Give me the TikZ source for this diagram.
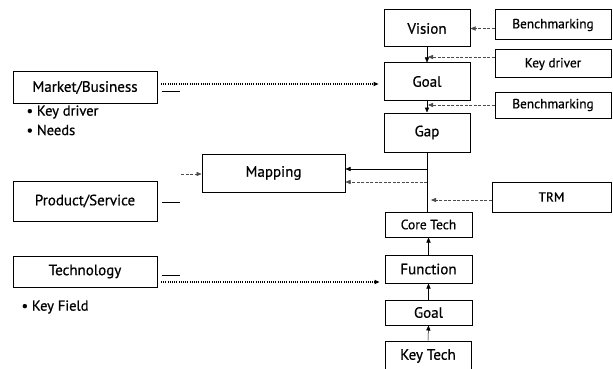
\documentclass[tikz,border=0pt]{standalone}
\usepackage{fontspec}
\setmainfont{PT Sans}[FakeBold=0.6]
\usetikzlibrary{arrows.meta}
\begin{document}
\begin{tikzpicture}[x=1pt,y=-1pt,
  frame/.style 2 args={draw,line width=1pt,minimum width=#1,minimum height=#2,inner sep=0pt},
  bigtxt/.style={font=\fontsize{15}{15}\selectfont},
  midtxt/.style={font=\fontsize{13.5}{13.5}\selectfont},
  smalltxt/.style={font=\fontsize{13.3}{13.3}\selectfont},
  bullettxt/.style={font=\fontsize{14.5}{14.5}\selectfont},
  tip/.style={-{Triangle[length=5pt,width=4.2pt]}},
  plain/.style={line width=0.5pt,tip},
  thindash/.style={line width=0.5pt,gray!60!black,dash pattern=on 3pt off 1.5pt,tip},
  heavydot/.style={line width=1.7pt,dash pattern=on 1pt off 1.2pt,tip,shorten >=5pt},
  stub/.style={line width=0.6pt}
]
\useasboundingbox (0,0) rectangle (613,369);

% roadmap column
\node[frame={86}{37},bigtxt] (vision) at (427,28.5) {Vision};
\node[frame={86}{37},bigtxt] (goalA) at (427,81.5) {Goal};
\node[frame={86}{39},bigtxt] (gap) at (427,132.5) {Gap};
\node[frame={87}{25},midtxt] (core) at (428.5,224.5) {Core Tech};
\node[frame={87}{28},bigtxt] (func) at (428.5,269) {Function};
\node[frame={87}{25},bigtxt] (goalB) at (428.5,312.5) {Goal};
\node[frame={86}{30},bigtxt] (keytech) at (428,356) {Key Tech};

% inputs on the right
\node[frame={116}{30},smalltxt] (benchA) at (553,25) {Benchmarking};
\node[frame={116}{28},smalltxt] (keydrv) at (553,64) {Key driver};
\node[frame={116}{26},smalltxt] (benchB) at (553,105) {Benchmarking};
\node[frame={119}{30},smalltxt] (trm) at (551.5,197) {TRM};

% mapping
\node[frame={143}{38},bigtxt] (mapping) at (273.5,173) {Mapping};

% perspectives on the left
\node[frame={144}{31},bigtxt] (market) at (85,87.5) {Market/Business};
\node[frame={144}{40},bigtxt] (product) at (85,201) {Product/Service};
\node[frame={144}{31},bigtxt] (tech) at (85,271.5) {Technology};
\node[bullettxt,anchor=west] (kd) at (23,112) {• Key driver};
\node[bullettxt,anchor=west] (needs) at (23,130) {• Needs};
\node[bullettxt,anchor=west] (kf) at (18,307) {• Key Field};

% junction points on the column
\coordinate (kdEnd) at (428,57);
\coordinate (mapA) at (427,169);
\coordinate (mapB) at (427,182);
\coordinate (trmEnd) at (431,200);
\coordinate (mkOut) at (161,84);
\coordinate (psOut) at (181,174);
\coordinate (tcOut) at (161,282);

% top-down chain
\draw[plain] (vision.south) -- (goalA.north);
\draw[plain] (goalA.south) -- (gap.north);
\draw[line width=0.5pt] (gap.south) -- (gap.south |- core.north);
\draw[thindash] (vision.east -| benchA.west) -- (vision.east);
\draw[thindash] (kdEnd -| keydrv.west) -- (kdEnd);
\draw[thindash] (benchB.west) -- (benchB.west -| kdEnd);
\draw[thindash] (trmEnd -| trm.west) -- (trmEnd);

% bottom-up chain
\draw[plain] (keytech.north) -- (goalB.south);
\draw[plain] (goalB.north) -- (func.south);
\draw[plain] (func.north) -- (core.south);

% feeds into mapping
\draw[plain] (mapA) -- (mapA -| mapping.east);
\draw[thindash] (mapB) -- (mapB -| mapping.east);
\draw[thindash] (psOut) -- (psOut -| mapping.west);

% perspective links
\draw[heavydot] (mkOut) -- (mkOut -| goalA.west);
\draw[heavydot] (tcOut) -- (tcOut -| func.west);
\draw[stub] ([xshift=4pt,yshift=-3.5pt]market.east) -- ++(18,0);
\draw[stub] ([xshift=4pt,yshift=-1pt]product.east) -- ++(18,0);
\draw[stub] ([xshift=4pt,yshift=-3.5pt]tech.east) -- ++(18,0);
\end{tikzpicture}
\end{document}
